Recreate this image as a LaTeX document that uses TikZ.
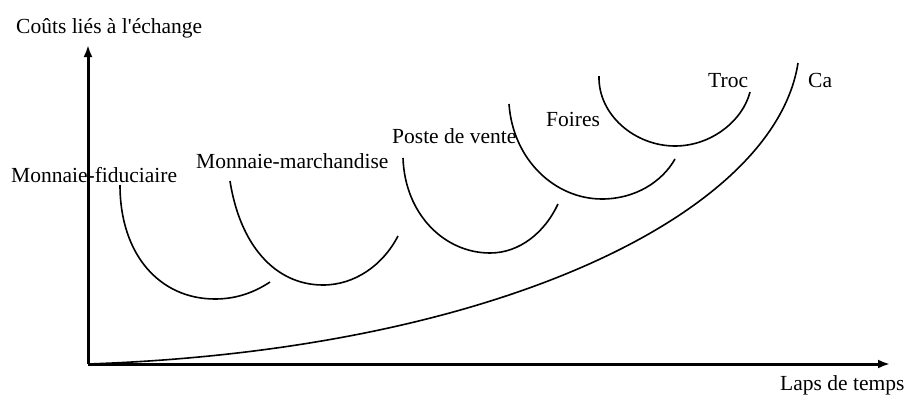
\documentclass[tikz,border=0pt]{standalone}
\usepackage{fontspec}
\setmainfont{Liberation Serif}
\usetikzlibrary{arrows.meta}
\begin{document}
\begin{tikzpicture}[x=1pt,y=-1pt,
  axis/.style={line width=3pt,-{Latex[length=12pt,width=9pt]}},
  curve/.style={line width=1.6pt},
  lbl/.style={anchor=base west,inner sep=0pt,font=\fontsize{21.5}{24}\selectfont}]
\useasboundingbox (0,0) rectangle (924,394);
\coordinate (O) at (88,364);
\coordinate (ytop) at (88,45);
\coordinate (xend) at (890,364);
\draw[axis] (O) -- (ytop);
\draw[axis] (O) -- (xend);
\node[lbl] (ylab) at (16,33) {Coûts liés à l\textquotesingle échange};
\node[lbl] (xlab) at (780,390) {Laps de temps};
% labels
\node[lbl] (mf) at (11,182) {Monnaie-fiduciaire};
\node[lbl] (mm) at (196,168) {Monnaie-marchandise};
\node[lbl] (pv) at (392,143) {Poste de vente};
\node[lbl] (fo) at (546,126) {Foires};
\node[lbl] (tr) at (708,87) {Troc};
\node[lbl] (ca) at (808,87) {Ca};
% U curves
\draw[curve] (120,185) .. controls (120,255) and (160,299) .. (215,299)
  .. controls (237,299) and (255,292) .. (270,282);
\draw[curve] (230,181) .. controls (240,245) and (275,285) .. (323,285)
  .. controls (355,285) and (383,265) .. (398,236);
\draw[curve] (403,158) .. controls (405,215) and (445,253) .. (490,253)
  .. controls (520,253) and (545,232) .. (558,204);
\draw[curve] (509,104) .. controls (513,160) and (555,199) .. (602,199)
  .. controls (635,199) and (662,182) .. (675,159);
\draw[curve] (599,76) .. controls (598,115) and (635,146) .. (675,146)
  .. controls (712,146) and (743,120) .. (750,92);
% Ca curve
\draw[curve] (O) .. controls (500,350) and (775,212) .. (798,63);
\end{tikzpicture}
\end{document}
